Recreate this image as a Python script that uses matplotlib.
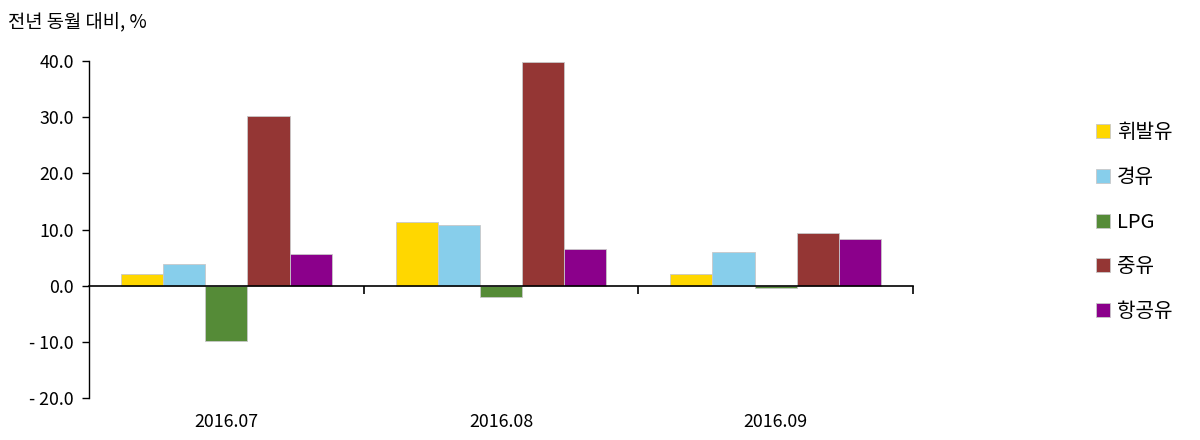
import numpy as np
import matplotlib

matplotlib.use("Agg")

import matplotlib.pyplot as plt
from matplotlib.ticker import FuncFormatter, FixedLocator

plt.rcParams["font.family"] = ["Noto Sans CJK KR", "DejaVu Sans"]

months = ["2016.07", "2016.08", "2016.09"]
fuels = ["휘발유", "경유", "LPG", "중유", "항공유"]
gasoline = [2.0, 11.4, 2.0]
diesel = [3.9, 10.8, 6.0]
lpg = [-9.8, -2.0, -0.4]
heavy_oil = [30.2, 39.9, 9.4]
jet_fuel = [5.7, 6.6, 8.4]
series = [gasoline, diesel, lpg, heavy_oil, jet_fuel]
colors = ["#FFD700", "#87CEEB", "#558B37", "#943634", "#8B008B"]


def fmt(value, _pos):
    if value < 0:
        return f"- {abs(value):.1f}"
    return f"{value:.1f}"


fig = plt.figure(figsize=(12, 4.4), dpi=100)
ax = fig.add_axes([0.0742, 0.0955, 0.6867, 0.7655])

centers = np.arange(len(months)) + 0.5
width = 0.1535
for i, (name, values, color) in enumerate(zip(fuels, series, colors)):
    offset = (i - 2) * width
    ax.bar(centers + offset, values, width=width, color=color, edgecolor="#C8C8C8",
           linewidth=0.6, label=name, zorder=2)

ax.set_xlim(0, len(months))
ax.set_ylim(-20, 40)
ax.set_yticks(np.arange(-20, 41, 10))
ax.yaxis.set_major_formatter(FuncFormatter(fmt))
ax.tick_params(axis="y", direction="out", length=5, width=1, labelsize=12.8, pad=6)

for side in ("top", "right"):
    ax.spines[side].set_visible(False)
ax.spines["bottom"].set_position(("data", 0))
ax.spines["bottom"].set_linewidth(1.2)
ax.spines["left"].set_linewidth(1.0)

ax.set_xticks(centers)
ax.set_xticklabels(months)
ax.xaxis.set_minor_locator(FixedLocator(np.arange(1, len(months) + 1)))
ax.tick_params(axis="x", which="major", length=0, labelsize=12.8, pad=92)
ax.tick_params(axis="x", which="minor", direction="out", length=6, width=1.2)

fig.text(0.007, 0.948, "전년 동월 대비, %", fontsize=13.5, va="center", ha="left")

handles, labels = ax.get_legend_handles_labels()
fig.legend(handles, labels, loc="center left", bbox_to_anchor=(0.898, 0.495),
           frameon=False, fontsize=14.5, handlelength=0.7, handleheight=0.7,
           handletextpad=0.35, labelspacing=1.18)

fig.savefig("out.png", dpi=100)
